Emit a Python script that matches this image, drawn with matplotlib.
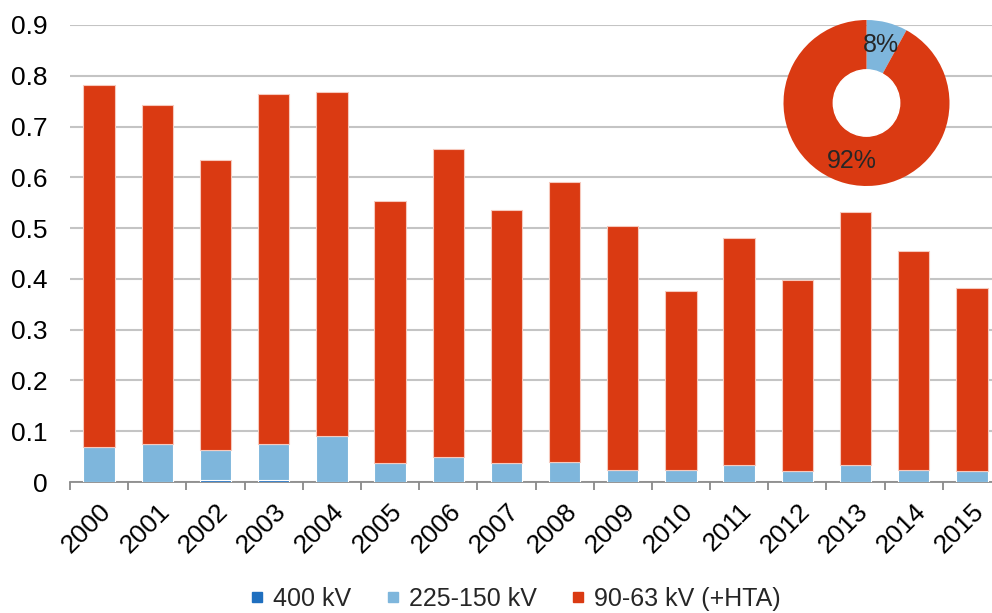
import matplotlib
matplotlib.use('Agg')
import matplotlib.pyplot as plt
import matplotlib.transforms as mtrans
from matplotlib.lines import Line2D
from matplotlib.patches import Circle
from matplotlib import rcParams

rcParams['font.family'] = ['Liberation Sans', 'DejaVu Sans']
rcParams['font.size'] = 19
rcParams['text.color'] = '#262626'

years = ['2000', '2001', '2002', '2003', '2004', '2005', '2006', '2007',
         '2008', '2009', '2010', '2011', '2012', '2013', '2014', '2015']
kv400 = [0.0, 0.0, 0.003, 0.003, 0.0, 0.0, 0.0, 0.0,
         0.0, 0.0, 0.0, 0.0, 0.0, 0.0, 0.0, 0.0]
kv225 = [0.069, 0.074, 0.061, 0.071, 0.090, 0.038, 0.050, 0.038,
         0.040, 0.024, 0.024, 0.033, 0.021, 0.033, 0.024, 0.021]
kv90 = [0.713, 0.668, 0.570, 0.691, 0.679, 0.516, 0.605, 0.498,
        0.550, 0.481, 0.353, 0.447, 0.376, 0.498, 0.431, 0.361]

pie_shares = [8, 92]

yticks = [0, 0.1, 0.2, 0.3, 0.4, 0.5, 0.6, 0.7, 0.8, 0.9]
ytick_labels = ['0', '0.1', '0.2', '0.3', '0.4', '0.5', '0.6', '0.7', '0.8', '0.9']

colors = ['#1f6fbf', '#7eb6dc', '#da3a12']
series_names = ['400 kV', '225-150 kV', '90-63 kV (+HTA)']

fig = plt.figure(figsize=[9.92, 6.13], dpi=100)
ax = fig.add_axes([70/992, 131/613, 931/992, 457/613])

x = list(range(len(years)))
bottom2 = [a + b for a, b in zip(kv400, kv225)]
ax.bar(x, kv400, width=0.54, color=colors[0], edgecolor='white', lw=0.8, zorder=3)
ax.bar(x, kv225, width=0.54, bottom=kv400, color=colors[1], edgecolor='white', lw=0.8, zorder=3)
ax.bar(x, kv90, width=0.54, bottom=bottom2, color=colors[2], edgecolor='#f6c9bd', lw=0.8, zorder=3)

ax.set_xlim(-0.5, len(years) - 0.5)
ax.set_ylim(0, 0.9)
ax.set_yticks(yticks)
ax.set_yticklabels(ytick_labels)
ax.grid(axis='y', color='#c4c4c4', lw=1.5, zorder=0)
ax.set_axisbelow(True)

ax.set_xticks(x)
ax.set_xticklabels(years, rotation=45, ha='right', va='top', rotation_mode='anchor')
shift = mtrans.ScaledTranslation(-6/100, 0, fig.dpi_scale_trans)
for lab in ax.get_xticklabels():
    lab.set_transform(lab.get_transform() + shift)
ax.set_xticks([i - 0.5 for i in range(len(years) + 1)], minor=True)
ax.tick_params(axis='x', which='major', length=0, pad=12)
ax.tick_params(axis='x', which='minor', length=6, color='#7f7f7f', width=1.2)
ax.tick_params(axis='y', length=0, pad=16)

for s in ['top', 'right', 'left']:
    ax.spines[s].set_visible(False)
ax.spines['bottom'].set_color('#8c8c8c')
ax.spines['bottom'].set_linewidth(1.3)

# donut inset
pax = fig.add_axes([(866.5 - 83)/992, (613 - 103 - 83)/613, 166/992, 166/613])
pax.pie(pie_shares, colors=colors[1:], startangle=90, counterclock=False,
        autopct='%d%%', pctdistance=0.72, radius=1.0,
        textprops={'fontsize': 18, 'color': '#262626'})
pax.add_patch(Circle((0, 0), 0.4, color='white', zorder=5))
pax.set_xlim(-1, 1)
pax.set_ylim(-1, 1)
pax.set_aspect('equal')
pax.axis('off')

handles = [Line2D([], [], ls='none', marker='s', markersize=7.5, color=c) for c in colors]
fig.legend(handles, series_names, loc='center', bbox_to_anchor=(516/992, 14/613),
           ncol=3, frameon=False, handlelength=0.5, handletextpad=0.4,
           columnspacing=1.4, fontsize=18)

fig.savefig('out.png', dpi=100)
